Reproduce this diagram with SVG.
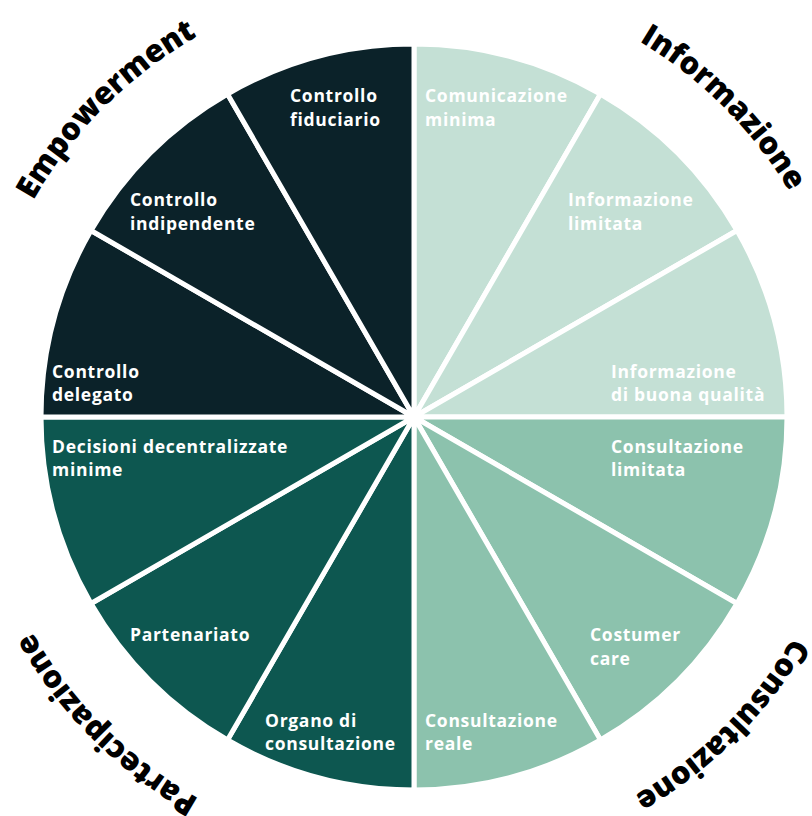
<svg xmlns="http://www.w3.org/2000/svg" width="812" height="816" viewBox="0 0 812 816">
<style>
.sl{stroke:#fff;stroke-width:5;stroke-linejoin:round}
.emp{fill:#0b2229}.inf{fill:#c4e0d5}.con{fill:#8cc2ad}.par{fill:#0d5750}
.lb{font-family:"Open Sans","DejaVu Sans",sans-serif;font-weight:700;font-size:17.5px;letter-spacing:0.7px;fill:#fff}
.cat{font-family:"Open Sans","DejaVu Sans",sans-serif;font-weight:800;font-size:31px;fill:#000}
</style>
<defs>
<path id="ring" d="M414,-21 A438,438 0 1 1 414,855 A438,438 0 1 1 414,-21"/>
</defs>
<rect width="812" height="816" fill="#fff"/>
<g id="s-comunicazione"><path class="sl inf" d="M414,417 L414,44 A373,373 0 0 1 600.5,94 Z"/><text class="lb" x="425" y="102">Comunicazione</text><text class="lb" x="425" y="126">minima</text></g>
<g id="s-info-limitata"><path class="sl inf" d="M414,417 L600.5,94 A373,373 0 0 1 737,230.5 Z"/><text class="lb" x="568" y="206">Informazione</text><text class="lb" x="568" y="230">limitata</text></g>
<g id="s-info-buona"><path class="sl inf" d="M414,417 L737,230.5 A373,373 0 0 1 787,417 Z"/><text class="lb" x="611" y="378">Informazione</text><text class="lb" x="611" y="401">di buona qualità</text></g>
<g id="s-cons-limitata"><path class="sl con" d="M414,417 L787,417 A373,373 0 0 1 737,603.5 Z"/><text class="lb" x="611" y="453">Consultazione</text><text class="lb" x="611" y="476">limitata</text></g>
<g id="s-costumer"><path class="sl con" d="M414,417 L737,603.5 A373,373 0 0 1 600.5,740 Z"/><text class="lb" x="590" y="641">Costumer</text><text class="lb" x="590" y="665">care</text></g>
<g id="s-cons-reale"><path class="sl con" d="M414,417 L600.5,740 A373,373 0 0 1 414,790 Z"/><text class="lb" x="425" y="727">Consultazione</text><text class="lb" x="425" y="750">reale</text></g>
<g id="s-organo"><path class="sl par" d="M414,417 L414,790 A373,373 0 0 1 227.5,740 Z"/><text class="lb" x="265" y="727">Organo di</text><text class="lb" x="265" y="750">consultazione</text></g>
<g id="s-partenariato"><path class="sl par" d="M414,417 L227.5,740 A373,373 0 0 1 91,603.5 Z"/><text class="lb" x="130" y="641">Partenariato</text></g>
<g id="s-decisioni"><path class="sl par" d="M414,417 L91,603.5 A373,373 0 0 1 41,417 Z"/><text class="lb" x="52" y="453">Decisioni decentralizzate</text><text class="lb" x="52" y="476">minime</text></g>
<g id="s-delegato"><path class="sl emp" d="M414,417 L41,417 A373,373 0 0 1 91,230.5 Z"/><text class="lb" x="52" y="378">Controllo</text><text class="lb" x="52" y="401">delegato</text></g>
<g id="s-indipendente"><path class="sl emp" d="M414,417 L91,230.5 A373,373 0 0 1 227.5,94 Z"/><text class="lb" x="130" y="206">Controllo</text><text class="lb" x="130" y="230">indipendente</text></g>
<g id="s-fiduciario"><path class="sl emp" d="M414,417 L227.5,94 A373,373 0 0 1 414,44 Z"/><text class="lb" x="290" y="102">Controllo</text><text class="lb" x="290" y="126">fiduciario</text></g>
<g id="categories">
<text class="cat" text-anchor="middle"><textPath href="#ring" startOffset="87.5%">Empowerment</textPath></text>
<text class="cat" text-anchor="middle"><textPath href="#ring" startOffset="12.5%">Informazione</textPath></text>
<text class="cat" text-anchor="middle"><textPath href="#ring" startOffset="37.5%">Consultazione</textPath></text>
<text class="cat" text-anchor="middle"><textPath href="#ring" startOffset="62.5%">Partecipazione</textPath></text>
</g>
</svg>
